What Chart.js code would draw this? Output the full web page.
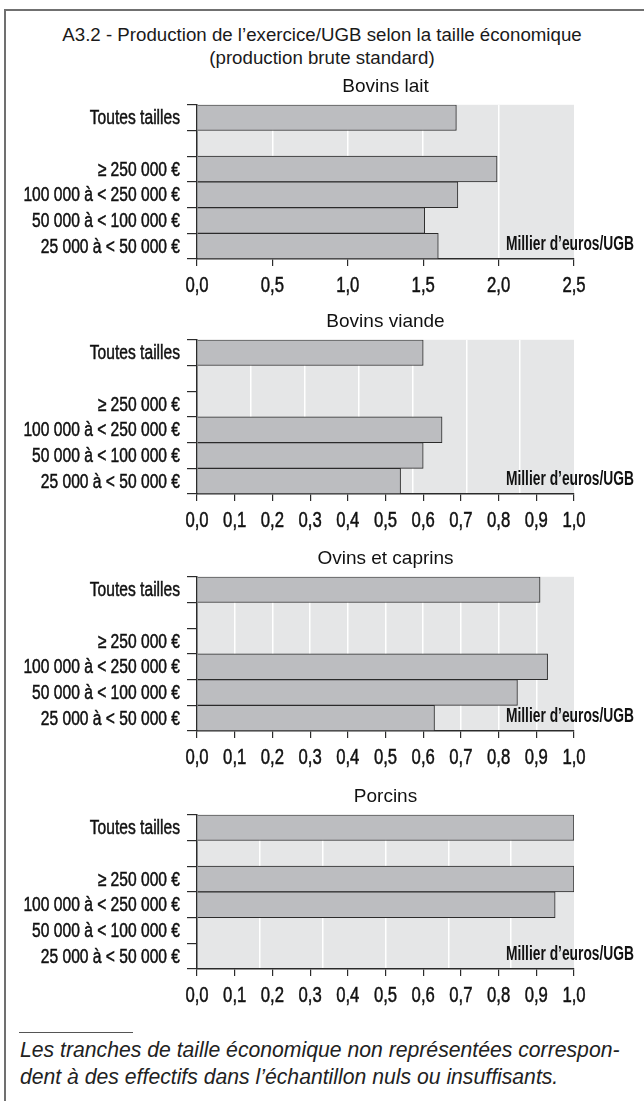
<!DOCTYPE html>
<html lang="fr">
<head>
<meta charset="UTF-8">
<title>A3.2 - Production de l'exercice/UGB selon la taille économique</title>
<script src="https://cdn.jsdelivr.net/npm/chart.js"></script>
<style>
  body { margin: 0; width: 644px; height: 1101px; position: relative; overflow: hidden; background: #fff;
         font-family: "Liberation Sans", Arial, sans-serif; color: #1a1a1a; }
  .cadre { position: absolute; left: 4px; top: 9px; width: 700px; height: 1200px;
           border-left: 2px solid #707070; border-top: 2px solid #707070; }
  .titre { position: absolute; left: 0; width: 644px; text-align: center; font-size: 18.7px; line-height: 22px; }
  .panel { position: absolute; left: 0; width: 644px; height: 229px; }
  .filet { position: absolute; left: 19px; top: 1032px; width: 114px; border-top: 1px solid #555; }
  .note { position: absolute; left: 20px; top: 1036px; font-style: italic; font-size: 21.2px; line-height: 27px; color: #222; }
</style>
</head>
<body>
<div class="cadre"></div>
<div class="titre" style="top:24px">A3.2 - Production de l’exercice/UGB selon la taille économique</div>
<div class="titre" style="top:47px">(production brute standard)</div>

<div class="panel" id="p0"><canvas id="c0"></canvas></div>
<div class="panel" id="p1"><canvas id="c1"></canvas></div>
<div class="panel" id="p2"><canvas id="c2"></canvas></div>
<div class="panel" id="p3"><canvas id="c3"></canvas></div>

<div class="filet"></div>
<div class="note">Les tranches de taille économique non représentées correspon-<br>dent à des effectifs dans l’échantillon nuls ou insuffisants.</div>

<script>
// données (millier d'euros / UGB)
const categories = ['Toutes tailles', '', '≥ 250 000 €', '100 000 à < 250 000 €', '50 000 à < 100 000 €', '25 000 à < 50 000 €'];
const panelTitles = ['Bovins lait', 'Bovins viande', 'Ovins et caprins', 'Porcins'];
const bovinsLait   = [1.72, null, 1.99, 1.73, 1.51, 1.60];
const bovinsViande = [0.60, null, null, 0.65, 0.60, 0.54];
const ovinsCaprins = [0.91, null, null, 0.93, 0.85, 0.63];
const porcins      = [1.00, null, 1.00, 0.95, null, null];
const axisMax   = [2.5, 1.0, 1.0, 1.0];
const tickSteps = [0.5, 0.1, 0.1, 0.1];
const gridSteps = [0.5, 1 / 7, 0.1, 1 / 6];
const unitLabel = 'Millier d’euros/UGB';

const series = [bovinsLait, bovinsViande, ovinsCaprins, porcins];
const panelTops = [75, 310, 547, 785];

const sans = '"Liberation Sans", Arial, sans-serif';
const ink = '#2b2b2b';

// texte "étroit" : pas de police condensée installée, on resserre à l'horizontale
// et on épaissit un peu le trait (style Futura condensé medium)
function etroit(ctx, txt, x, y, font, sx, align, base, gras) {
    ctx.save();
    ctx.font = font;
    ctx.fillStyle = '#111';
    ctx.strokeStyle = '#111';
    ctx.lineWidth = gras;
    ctx.textAlign = align;
    ctx.textBaseline = base;
    ctx.translate(x, y);
    ctx.scale(sx, 1);
    ctx.fillText(txt, 0, 0);
    if (gras) ctx.strokeText(txt, 0, 0);
    ctx.restore();
}

// fond gris, libellés d'axes resserrés, libellé d'unité
const fondPlugin = {
    id: 'fond',
    beforeDraw(chart) {
        const a = chart.chartArea, ctx = chart.ctx;
        ctx.save();
        ctx.fillStyle = '#e5e6e7';
        ctx.fillRect(a.left, a.top, a.right - a.left, a.bottom - a.top);
        ctx.restore();
    },
    afterDraw(chart) {
        const a = chart.chartArea, ctx = chart.ctx;
        const ys = chart.scales.y, xs = chart.scales.x;
        ys.ticks.forEach((t, k) => {
            etroit(ctx, ys.getLabelForValue(t.value), ys.right - 17, ys.getPixelForTick(k) + 1,
                '20px ' + sans, 0.78, 'right', 'middle', 0.5);
        });
        xs.ticks.forEach((t, k) => {
            etroit(ctx, t.label, xs.getPixelForTick(k), xs.top + 27,
                '22px ' + sans, 0.76, 'center', 'middle', 0.5);
        });
        etroit(ctx, unitLabel, 634, a.bottom - 15, 'bold 20px ' + sans, 0.69, 'right', 'middle', 0);
    }
};

series.forEach((data, i) => {
    document.getElementById('p' + i).style.top = panelTops[i] + 'px';
    const ctx = document.getElementById('c' + i).getContext('2d');
    new Chart(ctx, {
        type: 'bar',
        data: {
            labels: categories,
            datasets: [{
                data: data,
                backgroundColor: '#bcbdc0',
                borderColor: ink,
                borderWidth: 1,
                barPercentage: 1,
                categoryPercentage: 1
            }]
        },
        options: {
            indexAxis: 'y',
            responsive: true,
            maintainAspectRatio: false,
            animation: false,
            layout: { padding: { left: 0, right: 70, top: 0, bottom: 0 } },
            plugins: {
                legend: { display: false },
                tooltip: { enabled: false },
                title: {
                    display: true,
                    text: panelTitles[i],
                    fullSize: false,
                    color: '#111',
                    font: { family: sans, size: 19, weight: 'normal', lineHeight: 1.2 },
                    padding: { top: 0, bottom: 7 }
                }
            },
            scales: {
                y: {
                    type: 'category',
                    offset: true,
                    afterFit: s => { s.width = 197; },
                    grid: { offset: true, drawOnChartArea: false, drawTicks: true, tickLength: 10, color: ink, lineWidth: 1.2 },
                    border: { display: true, color: ink, width: 1.5 },
                    ticks: { color: 'rgba(0,0,0,0)', padding: 8, autoSkip: false, font: { family: sans, size: 16 } }
                },
                x: {
                    type: 'linear',
                    position: 'bottom',
                    min: 0,
                    max: axisMax[i],
                    afterFit: s => { s.height = 45; },
                    grid: { drawOnChartArea: false, drawTicks: true, tickLength: 7, color: ink, lineWidth: 1.2 },
                    border: { display: true, color: ink, width: 1.5 },
                    ticks: {
                        stepSize: tickSteps[i],
                        color: 'rgba(0,0,0,0)',
                        padding: 8,
                        maxRotation: 0,
                        autoSkip: false,
                        font: { family: sans, size: 14 },
                        callback: v => v.toFixed(1).replace('.', ',')
                    }
                },
                g: {
                    type: 'linear',
                    position: 'top',
                    min: 0,
                    max: axisMax[i],
                    afterFit: s => { s.height = 0; },
                    grid: {
                        drawTicks: false,
                        lineWidth: 1.5,
                        color: c => (c.index === 0 || c.tick.value >= axisMax[i] - 1e-9) ? 'rgba(0,0,0,0)' : '#ffffff'
                    },
                    border: { display: false },
                    ticks: { display: false, stepSize: gridSteps[i] }
                }
            }
        },
        plugins: [fondPlugin]
    });
});
</script>
</body>
</html>
